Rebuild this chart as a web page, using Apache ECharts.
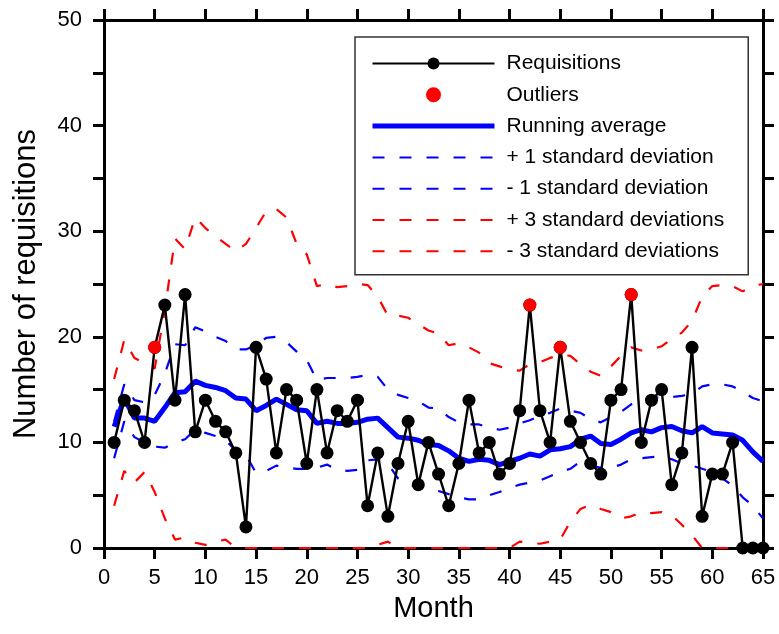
<!DOCTYPE html>
<html>
<head>
<meta charset="utf-8">
<script src="https://cdn.jsdelivr.net/npm/echarts@6/dist/echarts.min.js"></script>
<style>
  html, body { margin: 0; padding: 0; background: #fff; }
  #chart { width: 779px; height: 634px; }
</style>
</head>
<body>
<div id="chart"></div>
<script>
// month 1..65
const months = [];
for (let m = 1; m <= 65; m++) months.push(m);

const requisitions = [
  10, 14, 13, 10, 19, 23, 14, 24, 11, 14,
  12, 11, 9, 2, 19, 16, 9, 15, 14, 8,
  15, 9, 13, 12, 14, 4, 9, 3, 8, 12,
  6, 10, 7, 4, 8, 14, 9, 10, 7, 8,
  13, 23, 13, 10, 19, 12, 10, 8, 7, 14,
  15, 24, 10, 14, 15, 6, 9, 19, 3, 7,
  7, 10, 0, 0, 0
];

const outlierMonths = [5, 42, 45, 52];

const runningAvg = [
  11.5, 14.2, 12.3, 12.3, 12.0, 13.3, 14.7, 14.8, 15.8, 15.4,
  15.2, 14.9, 14.2, 14.1, 13.0, 13.5, 14.1, 13.6, 13.1, 13.0,
  11.8, 12.0, 11.8, 11.8, 11.9, 12.2, 12.3, 11.4, 10.5, 10.4,
  10.2, 9.8, 9.7, 9.2, 8.5, 8.2, 8.4, 8.3, 7.9, 8.2,
  8.5, 8.9, 8.7, 9.3, 9.4, 9.6, 10.3, 10.6, 9.9, 9.8,
  10.3, 10.9, 11.2, 11.0, 11.4, 11.5, 11.1, 10.9, 11.5, 10.9,
  10.8, 10.7, 10.2, 9.1, 8.2
];

const plus1 = [
  12.0, 15.5, 14.0, 13.8, 14.5, 16.5, 19.3, 19.2, 20.9, 20.5,
  20.0, 19.6, 18.8, 18.8, 19.2, 19.9, 20.0, 19.5, 18.6, 17.8,
  15.9, 16.1, 16.1, 16.1, 16.2, 16.4, 16.2, 15.0, 14.5, 14.2,
  13.9, 13.3, 13.2, 12.4, 11.9, 11.7, 11.7, 11.4, 11.2, 11.4,
  11.8, 12.1, 12.5, 12.8, 13.2, 13.0, 12.8, 12.2, 11.9, 12.4,
  12.9, 13.6, 13.9, 14.2, 14.3, 14.3, 14.4, 14.6, 15.3, 15.5,
  15.5, 15.3, 14.8, 14.2, 13.9
];

const minus1 = [
  8.5, 12.0, 10.5, 10.0, 9.6, 9.5, 10.0, 10.3, 11.2, 10.9,
  10.6, 10.2, 9.2, 8.8, 7.1, 7.3, 7.8, 7.6, 7.5, 7.5,
  7.6, 7.9, 7.4, 7.3, 7.4, 8.3, 8.4, 8.0, 6.6, 6.0,
  5.8, 5.7, 5.4, 5.1, 4.8, 4.6, 4.6, 5.0, 5.3, 5.7,
  6.0, 6.2, 6.4, 6.8, 7.2, 7.5, 8.2, 7.8, 7.6, 7.6,
  7.9, 8.4, 8.5, 8.6, 8.7, 8.4, 8.0, 7.8, 7.5, 7.2,
  6.6, 5.9, 4.8, 4.0, 2.8
];

const plus3 = [
  16.0, 19.7, 18.0, 17.5, 17.0, 22.5, 29.3, 28.3, 31.3, 30.3,
  29.5, 28.8, 28.1, 28.8, 30.3, 31.9, 32.1, 31.3, 28.8, 27.8,
  24.8, 25.0, 24.7, 24.8, 25.0, 24.9, 23.8, 22.0, 22.0, 21.8,
  21.2, 20.6, 20.3, 19.2, 19.4, 19.0, 18.5, 17.5, 17.2, 16.9,
  16.8, 17.4, 17.6, 18.0, 18.3, 18.2, 17.4, 16.7, 16.3, 17.2,
  18.2, 19.0, 18.7, 18.8, 19.1, 19.8, 20.4, 21.5, 23.8, 24.8,
  24.9, 24.8, 24.3, 24.8, 25.0
];

const minus3 = [
  4.0, 7.3, 6.2, 7.2, 5.3, 2.8, 0.8, 1.0, 0.5, 0.3,
  0.6, 0.8, 0, 0, 0, 0, 0, 0, 0, 0,
  0, 0, 0, 0, 0, 0, 0.3, 0.6, 0, 0,
  0, 0, 0, 0, 0, 0, 0, 0, 0, 0,
  0.6, 0.5, 0.4, 0.6, 0.8, 2.5, 3.7, 4.1, 3.7, 3.4,
  2.8, 3.0, 3.4, 3.3, 3.4, 3.1, 2.2, 1.2, 0, 0,
  0, 0, 0, 0, 0
];

const xTicks = { min: 0, max: 65, interval: 5 };
const yTicks = { min: 0, max: 50, interval: 10 };

const pairs = arr => months.map((m, i) => [m, arr[i]]);
const outliers = outlierMonths.map(m => [m, requisitions[m - 1]]);

const axisLine = { show: true, onZero: false, lineStyle: { color: '#000', width: 3 } };
const axisTick = { show: true, inside: false, length: 11, lineStyle: { color: '#000', width: 3 } };
const FONT = 'Liberation Sans, Arial, sans-serif';

const dashed = (name, data, color) => ({
  name: name,
  type: 'line',
  data: pairs(data),
  showSymbol: false,
  symbol: 'none',
  lineStyle: { color: color, width: 2.2, type: [12, 15] },
  itemStyle: { color: color },
  z: 2
});

// legend entries that show only a line, no marker
const lineOnly = (name, width) => ({
  name: name,
  itemStyle: { opacity: 0 },
  lineStyle: width ? { width: width } : undefined
});

const option = {
  animation: false,
  backgroundColor: '#fff',
  textStyle: { fontFamily: FONT },
  grid: { left: 104, right: 16, top: 20, bottom: 86, containLabel: false },
  legend: {
    data: [
      'Requisitions', 'Outliers',
      lineOnly('Running average', 5),
      lineOnly('+ 1 standard deviation'), lineOnly('- 1 standard deviation'),
      lineOnly('+ 3 standard deviations'), lineOnly('- 3 standard deviations')
    ],
    orient: 'vertical',
    left: 355,
    top: 37,
    padding: [16, 24, 13, 15],
    itemWidth: 122,
    itemHeight: 15,
    itemGap: 10.3,
    borderColor: '#333',
    borderWidth: 1.5,
    backgroundColor: '#fff',
    textStyle: { fontSize: 21, color: '#000', fontFamily: FONT, lineHeight: 20, padding: [0, 0, 0, 7] }
  },
  xAxis: [
    {
      type: 'value', position: 'bottom',
      min: xTicks.min, max: xTicks.max, interval: xTicks.interval,
      name: 'Month', nameLocation: 'middle', nameGap: 46,
      nameTextStyle: { fontSize: 29, color: '#000', fontFamily: FONT },
      axisLine: axisLine, axisTick: axisTick,
      axisLabel: { fontSize: 22, color: '#000', margin: 19, fontFamily: FONT },
      splitLine: { show: false }
    },
    {
      type: 'value', position: 'top',
      min: xTicks.min, max: xTicks.max, interval: xTicks.interval,
      axisLine: axisLine, axisTick: axisTick,
      axisLabel: { show: false },
      splitLine: { show: false }
    }
  ],
  yAxis: [
    {
      type: 'value', position: 'left',
      min: yTicks.min, max: yTicks.max, interval: yTicks.interval,
      name: 'Number of requisitions', nameLocation: 'middle', nameGap: 62,
      nameTextStyle: { fontSize: 31, color: '#000', fontFamily: FONT },
      axisLine: axisLine, axisTick: axisTick,
      minorTick: { show: true, splitNumber: 2, length: 11, lineStyle: { color: '#000', width: 3 } },
      axisLabel: { fontSize: 22, color: '#000', margin: 22, fontFamily: FONT },
      splitLine: { show: false }
    },
    {
      type: 'value', position: 'right',
      min: yTicks.min, max: yTicks.max, interval: 5,
      axisLine: axisLine, axisTick: axisTick,
      axisLabel: { show: false },
      splitLine: { show: false }
    }
  ],
  series: [
    dashed('+ 1 standard deviation', plus1, '#0000ff'),
    dashed('- 1 standard deviation', minus1, '#0000ff'),
    dashed('+ 3 standard deviations', plus3, '#ff0000'),
    dashed('- 3 standard deviations', minus3, '#ff0000'),
    {
      name: 'Running average',
      type: 'line',
      data: pairs(runningAvg),
      showSymbol: false,
      symbol: 'none',
      lineStyle: { color: '#0000ff', width: 5 },
      itemStyle: { color: '#0000ff' },
      z: 3
    },
    {
      name: 'Requisitions',
      type: 'line',
      data: pairs(requisitions),
      symbol: 'circle',
      symbolSize: 13,
      lineStyle: { color: '#000', width: 2.4 },
      itemStyle: { color: '#000' },
      clip: false,
      z: 4
    },
    {
      name: 'Outliers',
      type: 'scatter',
      data: outliers,
      symbol: 'circle',
      symbolSize: 13,
      itemStyle: { color: '#ff0000', opacity: 1 },
      z: 5
    }
  ]
};

const myChart = echarts.init(document.getElementById('chart'), null, { renderer: 'canvas' });
myChart.setOption(option);
</script>
</body>
</html>
